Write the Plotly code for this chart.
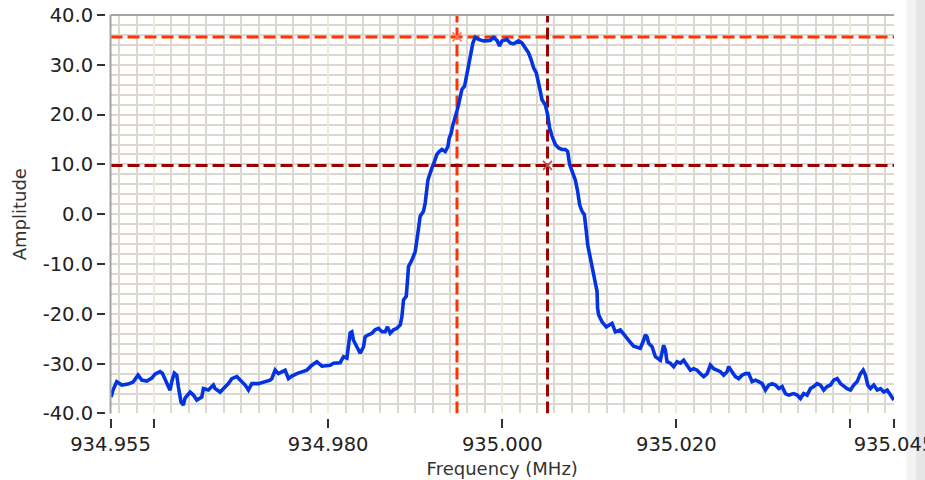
import plotly.graph_objects as go

# Spectrum trace: frequency (MHz) and amplitude
freq_mhz = [
    934.95506, 934.95529, 934.95571, 934.95629, 934.95701, 934.95759, 934.95816, 934.95859,
    934.95916, 934.95974, 934.96011, 934.96069, 934.96095, 934.96126, 934.96164, 934.96184,
    934.96203, 934.96233, 934.96261, 934.96279, 934.96310, 934.96337, 934.96356, 934.96414,
    934.96452, 934.96491, 934.96548, 934.96567, 934.96624, 934.96682, 934.96701, 934.96759,
    934.96797, 934.96854, 934.96893, 934.96951, 934.96989, 934.97046, 934.97084, 934.97123,
    934.97199, 934.97276, 934.97333, 934.97353, 934.97391, 934.97429, 934.97468, 934.97506,
    934.97544, 934.97583, 934.97640, 934.97698, 934.97755, 934.97813, 934.97870, 934.97928,
    934.97985, 934.98023, 934.98061, 934.98138, 934.98176, 934.98215, 934.98253, 934.98272,
    934.98291, 934.98330, 934.98368, 934.98406, 934.98425, 934.98463, 934.98502, 934.98540,
    934.98578, 934.98617, 934.98655, 934.98682, 934.98713, 934.98751, 934.98790, 934.98828,
    934.98847, 934.98866, 934.98897, 934.98912, 934.98923, 934.98962, 934.99000, 934.99020,
    934.99038, 934.99057, 934.99095, 934.99115, 934.99146, 934.99172, 934.99192, 934.99222,
    934.99249, 934.99276, 934.99307, 934.99345, 934.99376, 934.99391, 934.99414, 934.99429,
    934.99452, 934.99479, 934.99498, 934.99517, 934.99537, 934.99567, 934.99594, 934.99613,
    934.99640, 934.99663, 934.99690, 934.99728, 934.99785, 934.99862, 934.99900, 934.99939,
    934.99969, 934.99997, 935.00054, 935.00092, 935.00130, 935.00187, 935.00226, 935.00264,
    935.00302, 935.00330, 935.00360, 935.00391, 935.00417, 935.00437, 935.00456, 935.00494,
    935.00521, 935.00544, 935.00571, 935.00609, 935.00647, 935.00686, 935.00724, 935.00751,
    935.00774, 935.00801, 935.00839, 935.00866, 935.00889, 935.00916, 935.00943, 935.00966,
    935.00981, 935.01012, 935.01038, 935.01069, 935.01089, 935.01095, 935.01107, 935.01146,
    935.01195, 935.01261, 935.01299, 935.01356, 935.01414, 935.01471, 935.01509, 935.01586,
    935.01624, 935.01644, 935.01663, 935.01682, 935.01721, 935.01759, 935.01816, 935.01854,
    935.01874, 935.01893, 935.01931, 935.01969, 935.02008, 935.02046, 935.02084, 935.02123,
    935.02161, 935.02199, 935.02238, 935.02276, 935.02314, 935.02353, 935.02391, 935.02429,
    935.02468, 935.02506, 935.02544, 935.02583, 935.02601, 935.02640, 935.02678, 935.02716,
    935.02755, 935.02793, 935.02831, 935.02870, 935.02908, 935.02946, 935.02985, 935.03023,
    935.03061, 935.03100, 935.03138, 935.03176, 935.03215, 935.03253, 935.03291, 935.03348,
    935.03387, 935.03425, 935.03463, 935.03502, 935.03540, 935.03578, 935.03617, 935.03655,
    935.03693, 935.03732, 935.03770, 935.03808, 935.03847, 935.03885, 935.03923, 935.03962,
    935.04000, 935.04038, 935.04077, 935.04115, 935.04146, 935.04172, 935.04199, 935.04230,
    935.04268, 935.04307, 935.04345, 935.04383, 935.04422, 935.04460, 935.04498,
]

amplitude = [
    -36.7, -35.3, -33.6, -34.3, -34.1, -33.7, -32.3, -33.3,
    -33.5, -32.9, -32.1, -31.6, -31.9, -33.3, -34.6, -35.3,
    -33.6, -31.9, -32.3, -34.6, -37.7, -38.3, -36.9, -35.7,
    -36.3, -37.3, -36.7, -35.0, -35.3, -34.3, -35.0, -35.7,
    -35.0, -34.0, -33.0, -32.6, -33.3, -34.3, -35.3, -34.0,
    -34.0, -33.6, -33.3, -33.0, -31.3, -32.0, -31.6, -31.3,
    -33.0, -32.5, -32.0, -31.6, -31.3, -30.3, -29.6, -30.5,
    -30.3, -30.3, -29.9, -29.8, -28.6, -28.9, -23.8, -23.6,
    -25.3, -26.6, -27.9, -26.6, -24.6, -24.2, -23.9, -23.2,
    -22.9, -23.6, -23.6, -22.6, -23.9, -23.2, -22.9, -22.2,
    -20.6, -17.2, -16.5, -13.2, -10.5, -9.2, -7.5, -5.1,
    -2.5, -0.4, 0.6, 2.3, 6.9, 8.0, 9.3, 10.6,
    12.0, 12.6, 13.0, 12.6, 13.6, 15.3, 16.3, 17.7,
    19.4, 20.7, 22.0, 24.0, 25.1, 25.7, 28.1, 30.4,
    32.8, 34.4, 35.5, 35.1, 34.8, 34.9, 35.5, 34.9,
    33.8, 34.8, 35.1, 34.4, 34.2, 34.8, 34.4, 33.4,
    32.4, 31.1, 29.4, 28.4, 26.7, 24.7, 23.0, 22.0,
    20.0, 17.3, 15.7, 14.0, 13.3, 13.0, 13.0, 12.6,
    10.0, 8.6, 6.9, 4.6, 1.9, 0.6, -0.1, -3.5,
    -6.1, -8.8, -10.8, -13.5, -15.5, -18.9, -20.2, -21.6,
    -22.6, -21.9, -23.6, -23.2, -24.6, -25.7, -26.5, -26.9,
    -25.3, -24.2, -24.6, -25.9, -26.6, -28.6, -29.3, -26.3,
    -27.3, -29.6, -29.9, -30.6, -29.6, -29.9, -29.3, -30.3,
    -31.3, -31.0, -31.3, -32.0, -32.6, -32.0, -30.3, -31.0,
    -31.3, -31.6, -32.3, -31.6, -30.6, -31.6, -32.6, -33.0,
    -32.3, -32.0, -32.0, -33.6, -33.3, -33.6, -34.0, -35.3,
    -34.3, -34.0, -34.3, -35.0, -34.6, -36.0, -36.3, -36.0,
    -36.3, -37.0, -36.0, -36.3, -35.0, -34.6, -34.0, -34.3,
    -35.3, -34.6, -34.3, -33.3, -33.0, -34.0, -34.6, -35.0,
    -35.3, -34.3, -33.6, -32.0, -31.3, -32.3, -34.3, -35.0,
    -34.3, -35.3, -35.0, -35.7, -35.3, -36.3, -37.3,
]

# Two cursors: (frequency, level) pairs
cursor_freq = [934.9948, 935.0052]
cursor_level = [35.6, 9.8]
cursor_color = ["#FF3300", "#990000"]
cursor_mark_color = ["#FF7A60", "#C04848"]

x_range = [934.955, 935.045]
y_range = [-40.0, 40.0]
x_tickvals = [934.955, 934.960, 934.980, 935.000, 935.020, 935.040, 935.045]
x_ticktext = ["934.955", "", "934.980", "935.000", "935.020", "", "935.045"]
y_tickvals = [-40, -30, -20, -10, 0, 10, 20, 30, 40]
y_ticktext = ["-40.0", "-30.0", "-20.0", "-10.0", "0.0", "10.0", "20.0", "30.0", "40.0"]

FONT = "DejaVu Sans"
TICK_SIZE = 19.5
TITLE_SIZE = 18
MINOR_GRID = "#DCD8D0"
MAJOR_XGRID = "#EEEAD8"
BORDER = "#A4A4A4"

# plot box sits slightly inside the paper so the tick marks float off the border
X_DOM0 = 0.007
Y_DOM0 = 0.0112

fig = go.Figure()

# cursor lines (below the trace)
for f, lvl, col in zip(cursor_freq, cursor_level, cursor_color):
    fig.add_trace(go.Scatter(
        x=[f, f], y=y_range, mode="lines",
        line=dict(color=col, width=3, dash="12px,5px"),
        hoverinfo="skip", showlegend=False,
    ))
    fig.add_trace(go.Scatter(
        x=x_range, y=[lvl, lvl], mode="lines",
        line=dict(color=col, width=3, dash="12px,5px"),
        hoverinfo="skip", showlegend=False,
    ))

# spectrum
fig.add_trace(go.Scatter(
    x=freq_mhz, y=amplitude, mode="lines",
    line=dict(color="#0433E0", width=3.6),
    showlegend=False,
))

# cursor crosshair markers
fig.add_trace(go.Scatter(
    x=cursor_freq, y=cursor_level, mode="markers",
    marker=dict(symbol="x-thin", size=9,
                line=dict(color=cursor_mark_color, width=1.6)),
    hoverinfo="skip", showlegend=False,
))

fig.update_layout(
    width=925, height=480,
    margin=dict(l=105, r=31, t=15, b=62, autoexpand=False),
    paper_bgcolor="white",
    plot_bgcolor="white",
    font=dict(family=FONT, size=TICK_SIZE, color="#222222"),
    xaxis=dict(
        range=x_range,
        domain=[X_DOM0, 1],
        anchor="free", position=0,
        automargin=False,
        tickmode="array", tickvals=x_tickvals, ticktext=x_ticktext,
        ticks="outside", ticklen=9, tickwidth=2, tickcolor="#333333",
        ticklabeloverflow="allow",
        showgrid=True, gridcolor=MAJOR_XGRID, gridwidth=2,
        minor=dict(tickmode="linear", tick0=934.960, dtick=0.002,
                   showgrid=True, gridcolor=MINOR_GRID, gridwidth=2, ticks=""),
        zeroline=False, showline=False,
        tickfont=dict(family=FONT, size=TICK_SIZE, color="#222222"),
        title=dict(text="Frequency (MHz)",
                   font=dict(family=FONT, size=TITLE_SIZE, color="#333333"),
                   standoff=6),
    ),
    yaxis=dict(
        range=y_range,
        domain=[Y_DOM0, 1],
        anchor="free", position=0,
        automargin=False,
        tickmode="array", tickvals=y_tickvals, ticktext=y_ticktext,
        ticks="outside", ticklen=8, tickwidth=2, tickcolor="#333333",
        showgrid=True, gridcolor=MINOR_GRID, gridwidth=2,
        minor=dict(tickmode="linear", tick0=0, dtick=2,
                   showgrid=True, gridcolor=MINOR_GRID, gridwidth=2, ticks=""),
        zeroline=False, showline=False,
        tickfont=dict(family=FONT, size=TICK_SIZE, color="#222222"),
        title=dict(text="Amplitude",
                   font=dict(family=FONT, size=TITLE_SIZE, color="#333333"),
                   standoff=10),
    ),
    shapes=[
        # left and top frame of the plot box
        dict(type="line", xref="paper", yref="paper", x0=X_DOM0, x1=X_DOM0,
             y0=Y_DOM0, y1=1, line=dict(color=BORDER, width=2), layer="above"),
        dict(type="line", xref="paper", yref="paper", x0=X_DOM0, x1=1,
             y0=1, y1=1, line=dict(color=BORDER, width=2), layer="above"),
        # window edge strip on the right, behind the tick labels
        dict(type="rect", xref="paper", yref="paper", x0=1.016, x1=1.028, y0=-0.2, y1=1.1,
             fillcolor="#F3F3F3", line=dict(width=0), layer="below"),
        dict(type="rect", xref="paper", yref="paper", x0=1.028, x1=1.05, y0=-0.2, y1=1.1,
             fillcolor="#E6E6E6", line=dict(width=0), layer="below"),
    ],
)

fig.write_html("out.html")
